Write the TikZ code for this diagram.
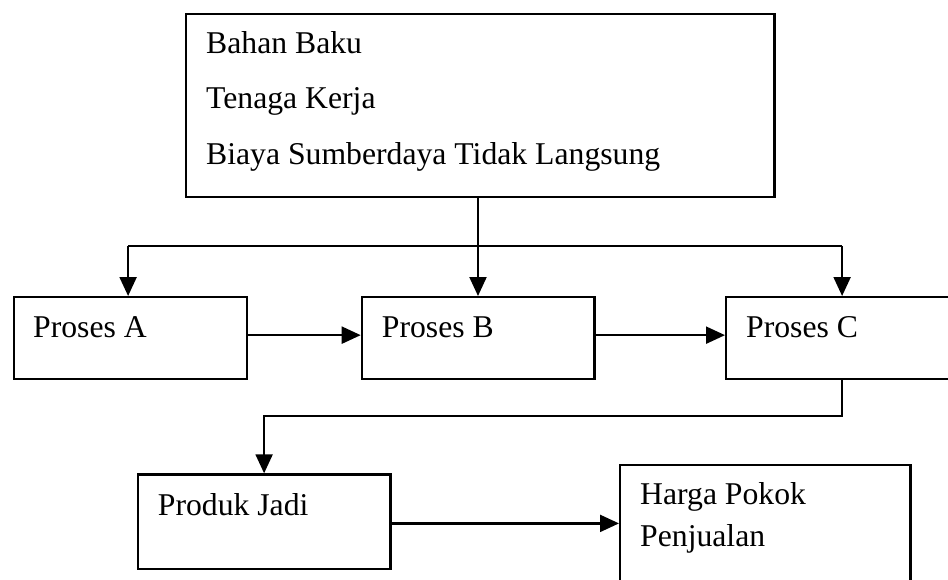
\documentclass[tikz,border=0pt]{standalone}
\usepackage{fontspec}
\setmainfont{Liberation Serif}
\usetikzlibrary{arrows.meta}
\begin{document}
\begin{tikzpicture}[x=1pt,y=-1pt,
  box/.style={draw=black, line width=2.2pt, rectangle, inner sep=0pt, anchor=north west},
  txt/.style={inner sep=0pt, anchor=base west, font=\fontsize{31.7}{38}\selectfont},
  conn/.style={draw=black, line width=2.2pt},
  arr/.style={conn, -{Triangle[length=19pt,width=17pt]}}]
\useasboundingbox (0,0) rectangle (948,580);
\clip (0,0) rectangle (948,580);
\fill[white] (0,0) rectangle (948,580);
% boxes
\node[box, minimum width=588.6pt, minimum height=182.7pt] (top) at (184.7,13.3) {};
\node[box, minimum width=233pt, minimum height=81.7pt] (A) at (12.7,296) {};
\node[box, minimum width=232.6pt, minimum height=81.7pt] (B) at (360.7,296) {};
\node[box, minimum width=232pt, minimum height=81.7pt] (C) at (725,296) {};
\node[box, minimum width=252.6pt, minimum height=94.4pt] (P) at (136.7,473.3) {};
\node[box, minimum width=290.3pt, minimum height=130pt] (H) at (619,464) {};
% texts
\node[txt] (t1) at (206,54) {Bahan Baku};
\node[txt] (t2) at (206,109) {Tenaga Kerja};
\node[txt] (t3) at (206,165) {Biaya Sumberdaya Tidak Langsung};
\node[txt] (ta) at (33,337) {Proses A};
\node[txt] (tb) at (381.7,337) {Proses B};
\node[txt] (tc) at (746,337) {Proses C};
\node[txt] (tp) at (157.7,515) {Produk Jadi};
\node[txt] (th1) at (640,504) {Harga Pokok};
\node[txt] (th2) at (640,546.7) {Penjualan};
% connectors
\coordinate (j) at (478,246);
\coordinate (k) at (841,415.7);
\draw[conn] (top.south -| j) -- (j);
\draw[conn] ([xshift=-2.2pt]A.north |- j) -- (C.north |- j);
\draw[arr] ([xshift=-2.2pt]A.north |- j) -- ([xshift=-2.2pt]A.north);
\draw[arr] (j) -- (B.north -| j);
\draw[arr] (C.north |- j) -- (C.north);
\draw[arr] ([yshift=2.8pt]A.east) -- ([yshift=2.8pt]B.west);
\draw[arr] ([yshift=2.8pt]B.east) -- ([yshift=2.8pt]C.west);
\draw[arr] (C.south) -- (C.south |- k) -| (P.north);
\draw[arr] ([yshift=-1.8pt]P.east) -- ([yshift=-1.8pt]P.east -| H.west);
\end{tikzpicture}
\end{document}
